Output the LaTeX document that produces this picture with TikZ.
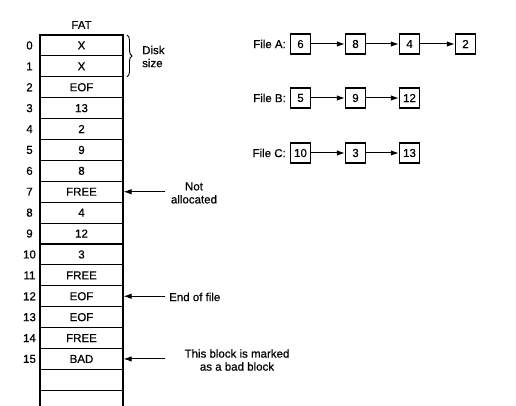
\documentclass[tikz,border=0pt]{standalone}
\usepackage{fontspec}
\setmainfont{Liberation Sans}[FakeBold=0.6]
\usetikzlibrary{arrows.meta,decorations.pathreplacing}
\begin{document}
\begin{tikzpicture}[x=1pt,y=-1pt,
  every node/.style={font=\fontsize{11.5}{13}\selectfont},
  fatrow/.style={draw,line width=1.1pt,minimum width=83pt,minimum height=20.9pt,inner sep=0pt,anchor=center},
  idx/.style={inner sep=0pt,anchor=center},
  blk/.style={draw,line width=1.4pt,minimum width=20pt,minimum height=20pt,inner sep=0pt},
  lnk/.style={line width=1pt,-{Latex[length=8pt,width=5.5pt]}},
  note/.style={align=center,inner sep=0pt}]
\useasboundingbox (0,0) rectangle (516,406);
\clip (0,0) rectangle (516,406);
% FAT title
\node[inner sep=0pt] (fat) at (81.5,25) {FAT};
% FAT rows
\foreach \i/\t in {0/X,1/X,2/EOF,3/13,4/2,5/9,6/8,7/FREE,8/4,9/12,10/3,11/FREE,12/EOF,13/EOF,14/FREE,15/BAD,16/{},17/{}} {
  \node[fatrow] (r\i) at (81.5,{35+(\i+0.5)*20.9}) {\t};
}
\foreach \i in {0,...,15} {
  \node[idx] (n\i) at (29.5,{35+(\i+0.5)*20.9}) {\i};
}
% Disk size brace
\coordinate (b0) at (127,35);
\coordinate (b1) at (127,{35+2*20.9});
\draw[line width=0.9pt,decoration={brace,amplitude=5pt},decorate] (b0) -- (b1);
\node[note,align=left,anchor=west] (disk) at (142,56.5) {Disk\\size};
% annotations
\coordinate (c7) at (165,{35+7.5*20.9});
\draw[lnk] (c7) -- (r7.east);
\node[note] (na) at (194,193) {Not\\allocated};
\coordinate (c12) at (165,{35+12.5*20.9});
\draw[lnk] (c12) -- (r12.east);
\node[note,anchor=west] (eof) at (169,297) {End of file};
\coordinate (c15) at (165,{35+15.5*20.9});
\draw[lnk] (c15) -- (r15.east);
\node[note] (bad) at (237,360) {This block is marked\\as a bad block};
% Files
\node[inner sep=0pt,anchor=east] (fa) at (286,44) {File A:};
\node[blk] (a1) at (300.5,44) {6};
\node[blk] (a2) at (355.5,44) {8};
\node[blk] (a3) at (409.5,44) {4};
\node[blk] (a4) at (465.5,44) {2};
\draw[lnk] (a1) -- (a2);
\draw[lnk] (a2) -- (a3);
\draw[lnk] (a3) -- (a4);
\node[inner sep=0pt,anchor=east] (fb) at (286,98) {File B:};
\node[blk] (b1n) at (300.5,98) {5};
\node[blk] (b2n) at (355.5,98) {9};
\node[blk] (b3n) at (409.5,98) {12};
\draw[lnk] (b1n) -- (b2n);
\draw[lnk] (b2n) -- (b3n);
\node[inner sep=0pt,anchor=east] (fc) at (286,153) {File C:};
\node[blk] (cc1) at (300.5,153) {10};
\node[blk] (cc2) at (355.5,153) {3};
\node[blk] (cc3) at (409.5,153) {13};
\draw[lnk] (cc1) -- (cc2);
\draw[lnk] (cc2) -- (cc3);
\end{tikzpicture}
\end{document}
